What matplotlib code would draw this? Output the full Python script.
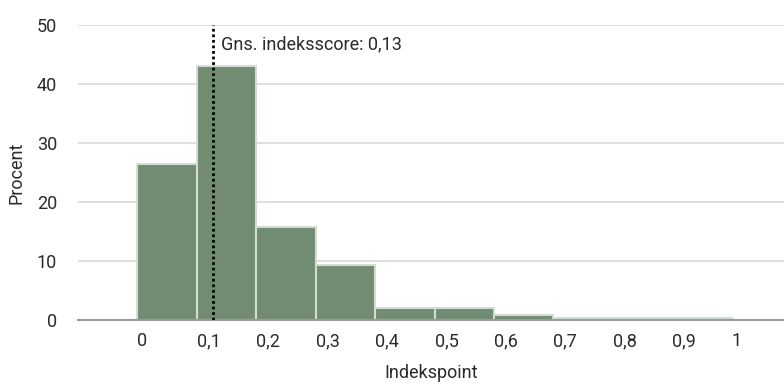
import matplotlib.pyplot as plt

plt.rcParams['font.family'] = ['Roboto', 'DejaVu Sans']

# histogram: bin left edges and share (procent)
bin_edges = [0.0, 0.1, 0.2, 0.3, 0.4, 0.5, 0.6, 0.7, 0.8, 0.9, 1.0]
procent = [26.4, 43.0, 15.7, 9.3, 2.0, 2.0, 0.9, 0.3, 0.3, 0.4]
mean_score = 0.13
tick_vals = [0, 0.1, 0.2, 0.3, 0.4, 0.5, 0.6, 0.7, 0.8, 0.9, 1]
tick_labels = ["0", "0,1", "0,2", "0,3", "0,4", "0,5", "0,6", "0,7", "0,8", "0,9", "1"]

fig = plt.figure(figsize=(7.84, 3.87), dpi=100)
ax = fig.add_axes([78 / 784, 1 - 320 / 387, 1 - 78 / 784, 295 / 387])

widths = [bin_edges[i + 1] - bin_edges[i] for i in range(len(procent))]
ax.bar(bin_edges[:-1], procent, width=widths, align="edge",
       color="#728c72", edgecolor="#d3dcd3", linewidth=1.5, zorder=2)

ax.set_xlim(-0.1, 1.088)
ax.set_ylim(0, 50)
ax.set_yticks([0, 10, 20, 30, 40, 50])
ax.grid(axis="y", color="#d9d9d9", linewidth=1.2, zorder=0)
ax.set_axisbelow(True)

for s in ["left", "right", "top"]:
    ax.spines[s].set_visible(False)
ax.spines["bottom"].set_color("#9a9a9a")
ax.spines["bottom"].set_linewidth(1.5)
ax.spines["bottom"].set_zorder(3)

txt = "#2a2a2a"
ax.set_xticks(tick_vals)
ax.set_xticklabels(tick_labels, ha="left")
ax.tick_params(axis="both", length=0, labelsize=13, colors=txt)
ax.tick_params(axis="x", pad=9)
ax.tick_params(axis="y", pad=15)

ax.axvline(mean_score - 0.002, ymin=0, ymax=1, color="black", linewidth=2,
           linestyle=(0, (1, 1)), zorder=4)
ax.text(mean_score + 0.01, 46.7, "Gns. indeksscore: 0,13", fontsize=13,
        color=txt, va="center", ha="left")

ax.set_xlabel("Indekspoint", fontsize=13, color=txt, labelpad=10)
ax.set_ylabel("Procent", fontsize=13, color=txt, labelpad=8)

fig.savefig("out.png", dpi=100)
